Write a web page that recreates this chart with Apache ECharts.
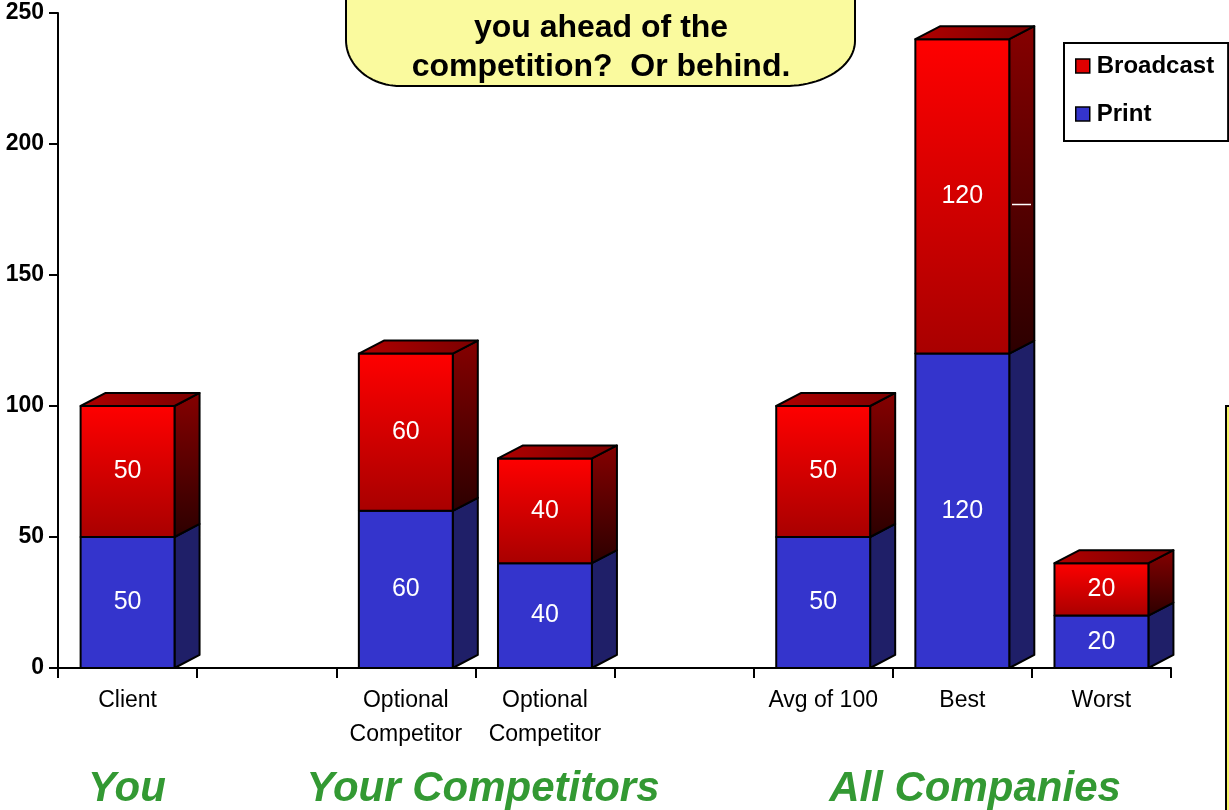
<!DOCTYPE html>
<html>
<head>
<meta charset="utf-8">
<title>Media spend: Print vs Broadcast</title>
<script src="https://cdn.jsdelivr.net/npm/echarts@6/dist/echarts.min.js"></script>
<style>
  html, body { margin: 0; padding: 0; background: #ffffff; }
  #chart { width: 1229px; height: 810px; }
</style>
</head>
<body>
<div id="chart"></div>
<script>
// Categories along the x axis (empty slots separate the three groups)
const categories = ['Client', '', 'Optional\nCompetitor', 'Optional\nCompetitor', '', 'Avg of 100', 'Best', 'Worst'];
// Stacked values per category
const printValues = [50, null, 60, 40, null, 50, 120, 20];
const broadcastValues = [50, null, 60, 40, null, 50, 120, 20];
// Value axis
const yMin = 0;
const yMax = 250;
const yStep = 50;
// Group captions under the axis
const groupLabels = ['You', 'Your Competitors', 'All Companies'];
const calloutLines = ['you ahead of the', 'competition?  Or behind.'];

const FONT = '"Liberation Sans", Arial, Helvetica, sans-serif';

// Build [categoryIndex, base, height] rows for the custom 3D bars
function stackRows(values, bases) {
  const rows = [];
  values.forEach((v, i) => {
    if (v == null) return;
    rows.push([i, bases ? (bases[i] || 0) : 0, v]);
  });
  return rows;
}
const printRows = stackRows(printValues, null);
const broadcastRows = stackRows(broadcastValues, printValues);

function lin(x2, y2, c0, c1) {
  return { type: 'linear', x: 0, y: 0, x2: x2, y2: y2,
           colorStops: [{ offset: 0, color: c0 }, { offset: 1, color: c1 }] };
}

const palette = {
  Print: {
    front: '#3434CC',
    side: '#1F1F68',
    top: '#2A2AA0'
  },
  Broadcast: {
    front: lin(0, 1, '#FF0000', '#A80000'),
    side: lin(0, 1, '#860000', '#2C0000'),
    top: lin(1, 0, '#B00000', '#7A0000')
  }
};

function makeRenderer(name, drawTop) {
  const colors = palette[name];
  return function (params, api) {
    const cat = api.value(0);
    const base = api.value(1);
    const val = api.value(2);
    const pb = api.coord([cat, base]);
    const pt = api.coord([cat, base + val]);
    const band = api.size([1, 0])[0];
    const w = band * 0.675;
    const dx = band * 0.18;
    const dy = dx * 0.52;
    const x0 = pb[0] - w / 2;
    const x1 = x0 + w;
    const yb = pb[1];
    const yt = pt[1];
    const line = { stroke: '#000', lineWidth: 2, lineJoin: 'round' };
    const children = [
      {
        type: 'polygon',
        shape: { points: [[x1, yb], [x1 + dx, yb - dy], [x1 + dx, yt - dy], [x1, yt]] },
        style: Object.assign({ fill: colors.side }, line)
      },
      {
        type: 'rect',
        shape: { x: x0, y: yt, width: w, height: yb - yt },
        style: Object.assign({ fill: colors.front }, line)
      }
    ];
    if (drawTop) {
      children.push({
        type: 'polygon',
        shape: { points: [[x0, yt], [x1, yt], [x1 + dx, yt - dy], [x0 + dx, yt - dy]] },
        style: Object.assign({ fill: colors.top }, line)
      });
    }
    children.push({
      type: 'text',
      style: {
        x: (x0 + x1) / 2,
        y: (yt + yb) / 2,
        text: String(val),
        fill: '#ffffff',
        font: '25px ' + FONT,
        align: 'center',
        verticalAlign: 'middle'
      }
    });
    return { type: 'group', children: children };
  };
}

// Outline of the rounded callout bubble (top edge runs off the page)
function calloutOutline() {
  const pts = [[346, -6], [346, 40]];
  const steps = 24;
  // lower-left corner: quarter ellipse centred at (400, 40)
  for (let s = 1; s <= steps; s++) {
    const a = Math.PI - (s / steps) * (Math.PI / 2);
    pts.push([400 + 54 * Math.cos(a), 40 + 46 * Math.sin(a)]);
  }
  // lower-right corner: quarter ellipse centred at (785, 41)
  for (let s = 0; s <= steps; s++) {
    const a = Math.PI / 2 - (s / steps) * (Math.PI / 2);
    pts.push([785 + 70 * Math.cos(a), 41 + 45 * Math.sin(a)]);
  }
  pts.push([855, -6]);
  return pts;
}

const chart = echarts.init(document.getElementById('chart'), null, { renderer: 'canvas' });

chart.setOption({
  backgroundColor: '#ffffff',
  animation: false,
  grid: { left: 58, right: 58, top: 13, bottom: 142, containLabel: false },
  legend: {
    data: ['Broadcast', 'Print'],
    orient: 'vertical',
    left: 1064,
    top: 43,
    padding: [11, 14, 15, 11],
    itemGap: 24,
    itemWidth: 14,
    itemHeight: 14,
    icon: 'rect',
    borderColor: '#000',
    borderWidth: 2,
    backgroundColor: '#fff',
    itemStyle: { borderColor: '#000', borderWidth: 1.5 },
    textStyle: { fontFamily: FONT, fontSize: 24, fontWeight: 'bold', color: '#000', padding: [0, 0, 0, 2] }
  },
  xAxis: {
    type: 'category',
    data: categories,
    boundaryGap: true,
    axisLine: { lineStyle: { color: '#000', width: 2 } },
    axisTick: { show: true, length: 10, alignWithLabel: false, interval: 0, lineStyle: { color: '#000', width: 2 } },
    axisLabel: { interval: 0, margin: 16, color: '#000', fontFamily: FONT, fontSize: 23, lineHeight: 34 },
    splitLine: { show: false }
  },
  yAxis: {
    type: 'value',
    min: yMin,
    max: yMax,
    interval: yStep,
    axisLine: { show: true, lineStyle: { color: '#000', width: 2 } },
    axisTick: { show: true, length: 9, lineStyle: { color: '#000', width: 2 } },
    axisLabel: { margin: 14, color: '#000', fontFamily: FONT, fontSize: 23, fontWeight: 'bold' },
    splitLine: { show: false }
  },
  series: [
    {
      name: 'Print',
      type: 'custom',
      renderItem: makeRenderer('Print', false),
      itemStyle: { color: '#3434CC' },
      encode: { x: 0, y: 2 },
      data: printRows,
      z: 2
    },
    {
      name: 'Broadcast',
      type: 'custom',
      renderItem: makeRenderer('Broadcast', true),
      itemStyle: { color: '#E00000' },
      encode: { x: 0, y: 2 },
      data: broadcastRows,
      z: 3
    }
  ],
  graphic: [
    {
      type: 'polygon',
      shape: { points: calloutOutline() },
      style: { fill: '#FAFA9E', stroke: '#000', lineWidth: 2 },
      z: 10
    },
    {
      type: 'text',
      x: 601,
      y: 48,
      style: {
        text: calloutLines.join('\n'),
        font: 'bold 32px ' + FONT,
        lineHeight: 39,
        fill: '#000',
        align: 'center',
        verticalAlign: 'middle'
      },
      z: 11
    },
    {
      // thin highlight across the side face of the tall bar
      type: 'line',
      shape: { x1: 1012, y1: 204.5, x2: 1031, y2: 204.5 },
      style: { stroke: '#ffffff', lineWidth: 1.5 },
      z: 12
    },
    {
      type: 'rect',
      shape: { x: 1226, y: 406, width: 12, height: 420 },
      style: { fill: '#F5F566', stroke: '#000', lineWidth: 2 },
      z: 10
    },
    {
      type: 'text', x: 127, y: 789,
      style: { text: groupLabels[0], font: 'italic bold 42px ' + FONT, fill: '#339933', align: 'center', verticalAlign: 'middle' }
    },
    {
      type: 'text', x: 483, y: 789,
      style: { text: groupLabels[1], font: 'italic bold 42px ' + FONT, fill: '#339933', align: 'center', verticalAlign: 'middle' }
    },
    {
      type: 'text', x: 975, y: 789,
      style: { text: groupLabels[2], font: 'italic bold 42px ' + FONT, fill: '#339933', align: 'center', verticalAlign: 'middle' }
    }
  ]
});
</script>
</body>
</html>
